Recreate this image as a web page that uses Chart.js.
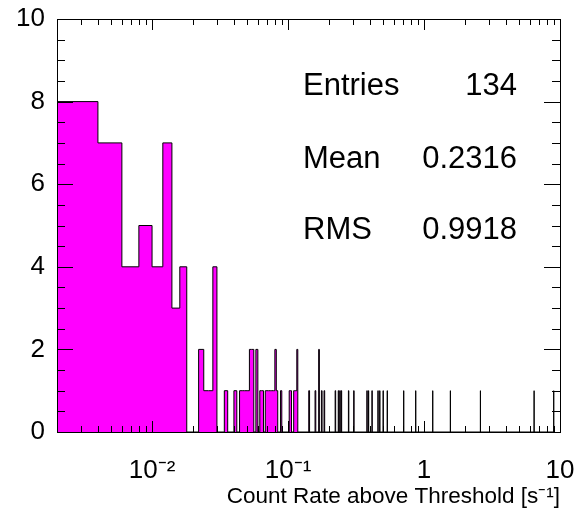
<!DOCTYPE html>
<html><head><meta charset="utf-8">
<script src="https://cdn.jsdelivr.net/npm/chart.js@4.4.0/dist/chart.umd.min.js"></script>
<style>html,body{margin:0;padding:0;background:#fff;}canvas{display:block;}</style>
</head><body>
<canvas id="c" width="576" height="512"></canvas>
<script>
// ---- data (bin width 0.002 s^-1) ----
const BIN_WIDTH = 0.002;
const binStart = [0.002,0.004,0.006,0.008,0.010,0.012,0.014,0.016,
  0.022,0.024,0.026,0.028,0.034,0.040,0.044,0.046,0.048,0.050,0.052,0.054,0.058,
  0.062,0.064,0.068,0.070,0.072,0.074,0.076,0.078,0.080,0.082,0.088,
  0.102,0.104,0.110,0.112,0.114,0.116,0.142,0.158,0.168,0.176,0.184,
  0.222,0.234,0.240,0.246,0.278,0.304,0.380,0.390,0.414,0.458,0.472,0.500,0.536,
  0.708,0.868,1.158,1.562,2.598,6.450,8.990];
const binCounts = [8,7,4,5,4,7,3,4,
  2,1,1,4,1,1,1,1,1,1,2,2,2,
  1,1,1,1,1,1,1,1,2,1,1,
  1,1,1,1,1,2,1,1,2,1,1,
  1,1,1,1,1,1,1,1,1,1,1,1,1,
  1,1,1,1,1,1,1];
const xMin = 0.002, xMax = 10;
const yMin = 0, yMax = 10;
const xTickValues = [0.01, 0.1, 1, 10];
const xTickLabels = ['10\u207B\u00B2', '10\u207B\u00B9', '1', '10'];
const yTickStep = 2;
const statLabels = ['Entries', 'Mean', 'RMS'];
const statValues = ['134', '0.2316', '0.9918'];
const xTitle = 'Count Rate above Threshold [s\u207B\u00B9]';

const FONT = "'Liberation Sans', Arial, Helvetica, sans-serif";

function buildSteps() {
  const pts = [];
  for (let i = 0; i < binStart.length; i++) {
    const lo = binStart[i], hi = lo + BIN_WIDTH;
    pts.push({x: lo, y: binCounts[i]});
    const next = binStart[i + 1];
    if (next === undefined || Math.abs(next - hi) > BIN_WIDTH * 1e-3) pts.push({x: hi, y: 0});
  }
  return pts;
}

const rootFrame = {
  id: 'rootFrame',
  afterDatasetsDraw(chart) {
    const {ctx, chartArea: a, scales: {x, y}} = chart;
    ctx.save();
    ctx.strokeStyle = '#000';
    ctx.lineWidth = 1;
    ctx.beginPath();
    for (let d = -3; d <= 1; d++) {
      for (let k = 1; k <= 9; k++) {
        const v = k * Math.pow(10, d);
        if (v < xMin * 0.9999 || v > xMax * 1.0001) continue;
        const px = Math.round(x.getPixelForValue(v)) + 0.5;
        const len = k === 1 ? 11 : 6;
        ctx.moveTo(px, a.bottom); ctx.lineTo(px, a.bottom - len);
        ctx.moveTo(px, a.top); ctx.lineTo(px, a.top + len);
      }
    }
    for (let i = 0; i <= (yMax - yMin) * 2; i++) {
      const v = yMin + i * 0.5;
      const py = Math.round(y.getPixelForValue(v)) + 0.5;
      const len = (v % yTickStep === 0) ? 16 : 8;
      ctx.moveTo(a.left, py); ctx.lineTo(a.left + len, py);
      ctx.moveTo(a.right, py); ctx.lineTo(a.right - len, py);
    }
    ctx.stroke();
    ctx.strokeRect(Math.round(a.left) + 0.5, Math.round(a.top) + 0.5,
                   Math.round(a.right - a.left), Math.round(a.bottom - a.top));
    ctx.restore();
  },
  afterDraw(chart) {
    const ctx = chart.ctx;
    ctx.save();
    ctx.fillStyle = '#000';
    ctx.font = '31px ' + FONT;
    ctx.textBaseline = 'alphabetic';
    const baselines = [95, 168, 239];
    for (let i = 0; i < statLabels.length; i++) {
      ctx.textAlign = 'left';
      ctx.fillText(statLabels[i], 303, baselines[i]);
      ctx.textAlign = 'right';
      ctx.fillText(statValues[i], 517, baselines[i]);
    }
    ctx.restore();
  }
};

new Chart(document.getElementById('c'), {
  type: 'line',
  data: {
    datasets: [{
      data: buildSteps(),
      stepped: 'before',
      borderColor: '#000',
      borderWidth: 1,
      backgroundColor: '#ff00ff',
      fill: 'origin',
      pointRadius: 0,
      tension: 0
    }]
  },
  options: {
    responsive: false,
    devicePixelRatio: 1,
    animation: false,
    parsing: false,
    normalized: true,
    layout: {padding: {top: 19, right: 16, left: 0, bottom: 0}},
    plugins: {legend: {display: false}, tooltip: {enabled: false}},
    scales: {
      x: {
        type: 'logarithmic',
        min: xMin, max: xMax,
        grid: {display: false, drawTicks: false},
        border: {display: false},
        afterFit(s) { s.height = 80; s.paddingLeft = 0; s.paddingRight = 0; },
        ticks: {
          autoSkip: false, maxRotation: 0, minRotation: 0,
          padding: 23, color: '#000',
          font: {family: FONT, size: 26},
          callback(v) {
            for (let i = 0; i < xTickValues.length; i++) {
              if (Math.abs(v / xTickValues[i] - 1) < 1e-6) return xTickLabels[i];
            }
            return '';
          }
        },
        title: {
          display: true, text: xTitle, align: 'end', color: '#000',
          font: {family: FONT, size: 22.5}, padding: {top: 0, bottom: 2}
        }
      },
      y: {
        type: 'linear',
        min: yMin, max: yMax,
        grid: {display: false, drawTicks: false},
        border: {display: false},
        afterFit(s) { s.width = 57; s.paddingTop = 0; s.paddingBottom = 0; },
        ticks: {
          stepSize: yTickStep, padding: 12, color: '#000',
          font: {family: FONT, size: 26}
        }
      }
    }
  },
  plugins: [rootFrame]
});
</script>
</body></html>
